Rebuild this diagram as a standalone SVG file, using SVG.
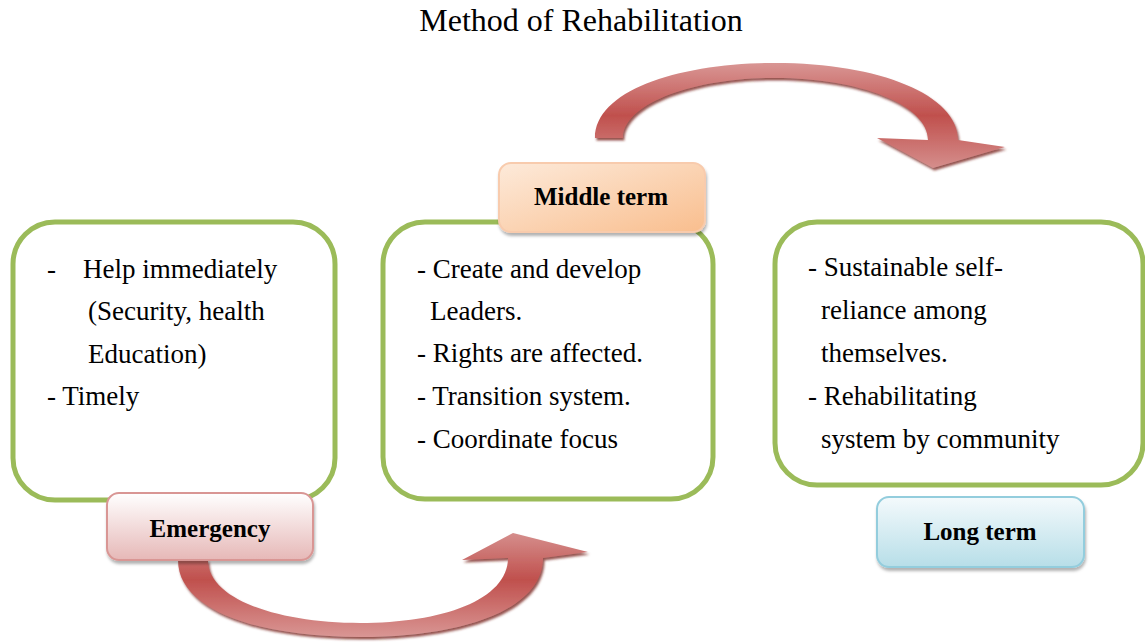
<svg xmlns="http://www.w3.org/2000/svg" width="1145" height="642" viewBox="0 0 1145 642">
<style>
.title{font-family:"Liberation Serif","Times New Roman",serif;font-size:32px;fill:#000}
.lbl{font-family:"Liberation Serif","Times New Roman",serif;font-size:25px;font-weight:bold;fill:#000;text-anchor:middle}
.box{fill:#fff;stroke:#9BBB59;stroke-width:5}
</style>
<defs>
<linearGradient id="gEm" x1="0" y1="0" x2="0" y2="1"><stop offset="0" stop-color="#FFFFFF"/><stop offset="1" stop-color="#E6B8B7"/></linearGradient>
<linearGradient id="gMid" x1="0" y1="0" x2="1" y2="1"><stop offset="0" stop-color="#FDEADA"/><stop offset="1" stop-color="#F9BE8E"/></linearGradient>
<linearGradient id="gLong" x1="0" y1="0" x2="0" y2="1"><stop offset="0" stop-color="#F4FAFC"/><stop offset="1" stop-color="#B7DEE8"/></linearGradient>
<linearGradient id="gArrB" x1="0" y1="0" x2="0" y2="1"><stop offset="0" stop-color="#D58E8C"/><stop offset="0.45" stop-color="#C0504D"/><stop offset="1" stop-color="#D99694"/></linearGradient>
<linearGradient id="gArrT" x1="0" y1="0" x2="0" y2="1"><stop offset="0" stop-color="#D99694"/><stop offset="0.5" stop-color="#C0504D"/><stop offset="1" stop-color="#D58E8C"/></linearGradient>
<filter id="sh" x="-10%" y="-10%" width="120%" height="130%"><feDropShadow dx="1.5" dy="2.5" stdDeviation="1" flood-color="#7A2523" flood-opacity="0.8"/></filter>
<filter id="lsh" x="-10%" y="-10%" width="120%" height="130%"><feDropShadow dx="1" dy="3" stdDeviation="1.5" flood-color="#000" flood-opacity="0.3"/></filter>
</defs>
<text class="title" x="581" y="31" text-anchor="middle">Method of Rehabilitation</text>

<g id="box-emergency">
<rect class="box" x="13" y="222" width="322" height="278" rx="42"/>
<text x="47" y="278" font-family="Liberation Serif" font-size="27">-</text>
<text x="83" y="278" font-family="Liberation Serif" font-size="27">Help immediately</text>
<text x="88" y="320" font-family="Liberation Serif" font-size="27">(Security, health</text>
<text x="88" y="363" font-family="Liberation Serif" font-size="27">Education)</text>
<text x="47" y="405" font-family="Liberation Serif" font-size="27">- Timely</text>
</g>

<g id="box-middle">
<rect class="box" x="383" y="222" width="330" height="277" rx="42"/>
<text x="417" y="278" font-family="Liberation Serif" font-size="27">- Create and develop</text>
<text x="430" y="320" font-family="Liberation Serif" font-size="27">Leaders.</text>
<text x="417" y="362" font-family="Liberation Serif" font-size="27">- Rights are affected.</text>
<text x="417" y="405" font-family="Liberation Serif" font-size="27">- Transition system.</text>
<text x="417" y="448" font-family="Liberation Serif" font-size="27">- Coordinate focus</text>
</g>

<g id="box-long">
<rect class="box" x="775" y="222" width="368" height="263" rx="42"/>
<text x="808" y="276" font-family="Liberation Serif" font-size="27">- Sustainable self-</text>
<text x="821" y="319" font-family="Liberation Serif" font-size="27">reliance among</text>
<text x="821" y="362" font-family="Liberation Serif" font-size="27">themselves.</text>
<text x="808" y="405" font-family="Liberation Serif" font-size="27">- Rehabilitating</text>
<text x="821" y="448" font-family="Liberation Serif" font-size="27">system by community</text>
</g>

<g id="connectors">
<path filter="url(#sh)" fill="url(#gArrB)" d="M178,560 C178,612 262,637 360,637 C462,637 543,610 543,558 L588,552 L513,533 L462,560 L508,558 C508,600 442,623 360,623 C280,623 208,600 208,560 Z"/>
<path filter="url(#sh)" fill="url(#gArrT)" d="M595,138 C595,90 680,63 775,63 C880,63 958,95 958,140 L1005,147 L933,168 L877,138 L928,140 C928,105 860,78 775,78 C690,78 623,105 623,138 Z"/>
</g>

<g id="label-emergency">
<rect x="107" y="493" width="206" height="67" rx="12" fill="url(#gEm)" stroke="#D99694" stroke-width="2" filter="url(#lsh)"/>
<text class="lbl" x="210" y="537">Emergency</text>
</g>

<g id="label-middle">
<rect x="499" y="163" width="206" height="69" rx="12" fill="url(#gMid)" stroke="#F8CBAD" stroke-width="2" filter="url(#lsh)"/>
<text class="lbl" x="601" y="205">Middle term</text>
</g>

<g id="label-long">
<rect x="877" y="497" width="207" height="70" rx="12" fill="url(#gLong)" stroke="#93CDDD" stroke-width="2" filter="url(#lsh)"/>
<text class="lbl" x="980" y="540">Long term</text>
</g>
</svg>
